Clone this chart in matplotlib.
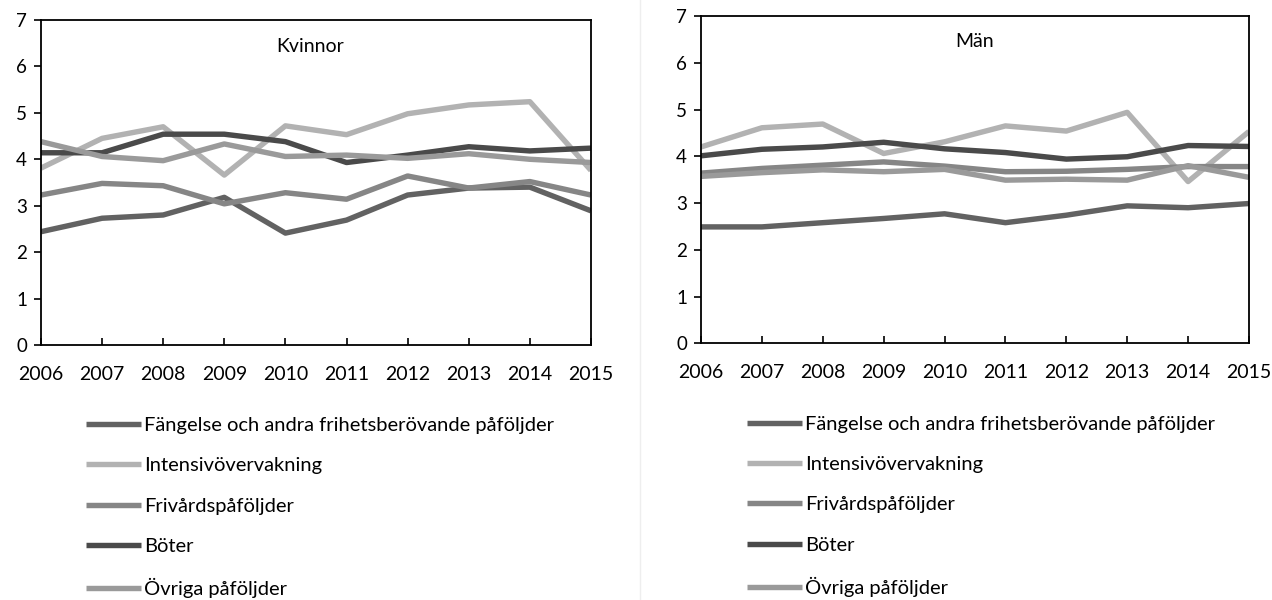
import numpy as np
import matplotlib
matplotlib.use('Agg')
import matplotlib.pyplot as plt
from matplotlib.lines import Line2D

plt.rcParams['font.family'] = ['Lato', 'DejaVu Sans']

years = ['2006', '2007', '2008', '2009', '2010', '2011', '2012', '2013', '2014', '2015']
labels = ['Fängelse och andra frihetsberövande påföljder',
          'Intensivövervakning',
          'Frivårdspåföljder',
          'Böter',
          'Övriga påföljder']
colors = ['#626262', '#b2b2b2', '#868686', '#4a4a4a', '#9a9a9a']

# Kvinnor
k_fangelse = [2.44, 2.73, 2.80, 3.18, 2.41, 2.69, 3.23, 3.38, 3.40, 2.89]
k_intensiv = [3.81, 4.45, 4.70, 3.66, 4.72, 4.53, 4.98, 5.17, 5.24, 3.76]
k_frivard = [3.23, 3.48, 3.43, 3.04, 3.28, 3.14, 3.64, 3.38, 3.52, 3.23]
k_boter = [4.14, 4.14, 4.54, 4.54, 4.38, 3.93, 4.09, 4.27, 4.18, 4.24]
k_ovriga = [4.38, 4.06, 3.97, 4.33, 4.06, 4.09, 4.02, 4.12, 4.00, 3.93]

# Män
m_fangelse = [2.49, 2.49, 2.58, 2.67, 2.77, 2.58, 2.74, 2.94, 2.90, 2.99]
m_intensiv = [4.20, 4.61, 4.69, 4.06, 4.31, 4.65, 4.54, 4.94, 3.46, 4.53]
m_frivard = [3.64, 3.74, 3.81, 3.88, 3.79, 3.67, 3.68, 3.72, 3.78, 3.78]
m_boter = [4.01, 4.15, 4.20, 4.30, 4.16, 4.08, 3.94, 3.99, 4.23, 4.21]
m_ovriga = [3.57, 3.65, 3.71, 3.67, 3.72, 3.49, 3.51, 3.49, 3.80, 3.55]


def draw_panel(ax, series, title, title_x, title_y):
    x = np.arange(len(years))
    for vals, lab, col in zip(series, labels, colors):
        ax.plot(x, vals, color=col, lw=3.9, label=lab, solid_capstyle='butt')
    ax.set_xlim(0, len(years) - 1)
    ax.set_ylim(0, 7)
    ax.set_xticks(x)
    ax.set_xticklabels(years)
    ax.set_yticks(range(0, 8))
    ax.tick_params(axis='x', direction='in', length=5, width=1.2, pad=15, labelsize=14)
    ax.tick_params(axis='y', direction='out', length=5, width=1.2, pad=5, labelsize=13.5)
    for s in ax.spines.values():
        s.set_linewidth(1.3)
        s.set_color('black')
    ax.text(title_x, title_y, title, transform=ax.transAxes, ha='center', va='center', fontsize=14)


fig = plt.figure(figsize=(12.72, 6), dpi=100)
ax1 = fig.add_axes([0.0322, 0.425, 0.4324, 0.5417])
ax2 = fig.add_axes([0.5511, 0.4278, 0.4308, 0.5455])

draw_panel(ax1, [k_fangelse, k_intensiv, k_frivard, k_boter, k_ovriga], 'Kvinnor', 0.49, 0.917)
draw_panel(ax2, [m_fangelse, m_intensiv, m_frivard, m_boter, m_ovriga], 'Män', 0.5, 0.921)

for ax, anchor in [(ax1, (0.0676, 0.305)), (ax2, (0.5873, 0.307))]:
    h, l = ax.get_legend_handles_labels()
    fig.legend(h, l, loc='upper left', bbox_to_anchor=anchor, frameon=False,
               fontsize=14.5, handlelength=2.75, handletextpad=0.12,
               labelspacing=1.15, borderpad=0, borderaxespad=0)

# tunn skiljelinje mellan diagrammen
fig.add_artist(Line2D([0.503, 0.503], [0, 1], color='#eeeeee', lw=1))

plt.savefig('out.png', dpi=100)
